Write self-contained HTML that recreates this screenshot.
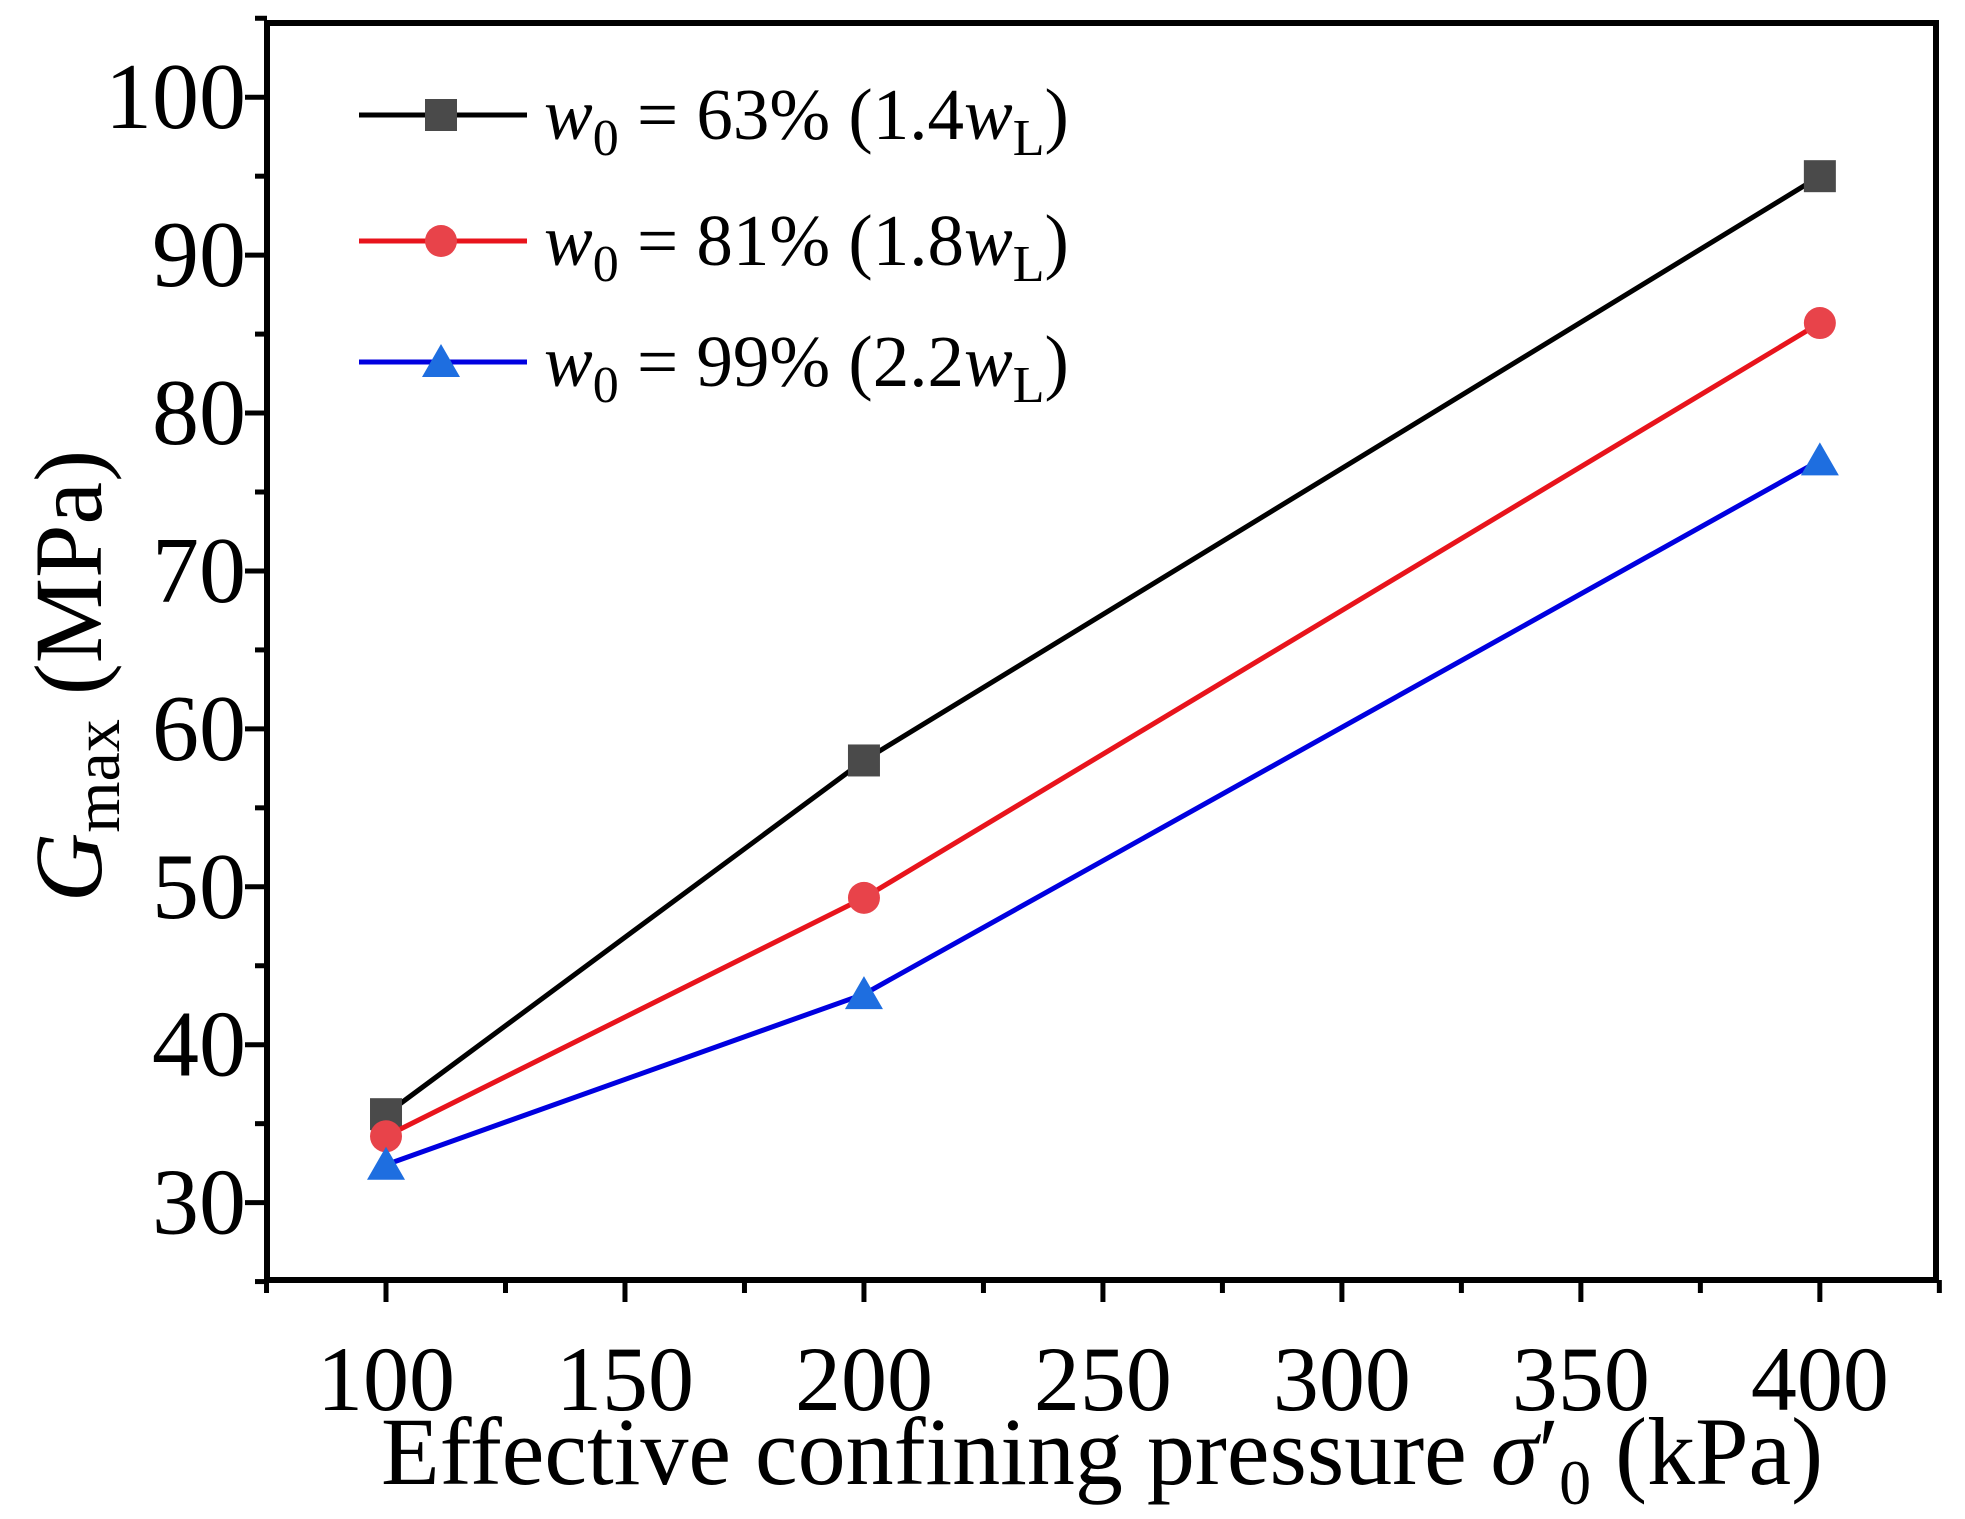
<!DOCTYPE html>
<html><head><meta charset="utf-8"><style>
body{margin:0;background:#fff}
svg{display:block;font-family:"Liberation Serif",serif}
</style></head><body>
<svg id="chart" width="1965" height="1519" viewBox="0 0 1965 1519" xmlns="http://www.w3.org/2000/svg">
<g id="plot"></g>
</svg>
<script>
const xCats = [100, 200, 400];
const seriesA = [35.6, 58.0, 95.0];
const seriesB = [34.2, 49.3, 85.7];
const seriesC = [32.4, 43.2, 77.0];
const xTicks = [100, 150, 200, 250, 300, 350, 400];
const yTicks = [30, 40, 50, 60, 70, 80, 90, 100];
const legendLabels = [["63%","1.4"],["81%","1.8"],["99%","2.2"]];

const L=267,R=1936,T=23,B=1280;
const xMin=75.1,xMax=424.3,yMin=25.1,yMax=104.7;
function xs(v){return L+(v-xMin)/(xMax-xMin)*(R-L);}
function ys(v){return B-(v-yMin)/(yMax-yMin)*(B-T);}
const NS="http://www.w3.org/2000/svg";
const g=document.getElementById('plot');
function mk(tag,attrs,parent){const e=document.createElementNS(NS,tag);for(const k in attrs)e.setAttribute(k,attrs[k]);(parent||g).appendChild(e);return e;}

let fr=mk('rect',{x:L,y:T,width:R-L,height:B-T,fill:'none',stroke:'#000','stroke-width':6});



for(let v=75;v<=425;v+=25){
  const major=xTicks.includes(v);
  let t=mk('line',{x1:xs(v),x2:xs(v),y1:B,y2:B+(major?22:13),stroke:'#000','stroke-width':5});
  
  
}
xTicks.forEach(v=>{
  let t=mk('text',{x:xs(v),y:1410,'text-anchor':'middle','font-size':92,fill:'#000'});
  t.textContent=v;
  
  
});
for(let v=25;v<=105;v+=5){
  const major=yTicks.includes(v);
  let t=mk('line',{x1:L,x2:L-(major?22:12),y1:ys(v),y2:ys(v),stroke:'#000','stroke-width':5});
  
  
}
yTicks.forEach(v=>{
  let t=mk('text',{x:246,y:ys(v)+31,'text-anchor':'end','font-size':94,fill:'#000'});
  t.textContent=v;
  
  
});

let xt=mk('text',{x:1102,y:1484,'text-anchor':'middle','font-size':96,fill:'#000'});
xt.innerHTML='Effective confining pressure <tspan font-style="italic">σ</tspan>′<tspan font-size="64" dy="20">0</tspan><tspan dy="-20"> (kPa)</tspan>';


let yt=mk('text',{x:0,y:0,'text-anchor':'middle','font-size':96,fill:'#000',transform:'translate(101,676) rotate(-90)'});
yt.innerHTML='<tspan font-style="italic">G</tspan><tspan font-size="66" dy="18">max</tspan><tspan dy="-18"> (MPa)</tspan>';



const colors=[['#000','#4a4a4a'],['#e8141c','#e8434a'],['#0000e0','#1e6ee0']];
const allSeries=[seriesA,seriesB,seriesC];
function marker(i,cx,cy,name){
  let m;
  if(i===0) m=mk('rect',{x:cx-16,y:cy-16,width:32,height:32,fill:colors[i][1]});
  else if(i===1) m=mk('circle',{cx:cx,cy:cy,r:16,fill:colors[i][1]});
  else m=mk('polygon',{points:`${cx},${cy-18} ${cx+19},${cy+15} ${cx-19},${cy+15}`,fill:colors[i][1]});
  
  
}
allSeries.forEach((s,i)=>{
  let p=mk('polyline',{points:s.map((v,j)=>xs(xCats[j])+','+ys(v)).join(' '),fill:'none',stroke:colors[i][0],'stroke-width':5});
  
  
  s.forEach((v,j)=>marker(i,xs(xCats[j]),ys(v),'series-'+(i+1)+'-point'));
});

const ly=[115,241,362];
legendLabels.forEach((lab,i)=>{
  let l=mk('line',{x1:359,x2:527,y1:ly[i],y2:ly[i],stroke:colors[i][0],'stroke-width':5});
  
  
  marker(i,441,ly[i],'legend-marker');
  let t=mk('text',{x:544,y:ly[i]+24,'font-size':73,fill:'#000'});
  t.innerHTML=`<tspan font-style="italic">w</tspan><tspan font-size="52" dy="16">0</tspan><tspan dy="-16"> = ${lab[0]} (${lab[1]}</tspan><tspan font-style="italic">w</tspan><tspan font-size="52" dy="16">L</tspan><tspan dy="-16">)</tspan>`;
  
  
});
</script>
</body></html>
